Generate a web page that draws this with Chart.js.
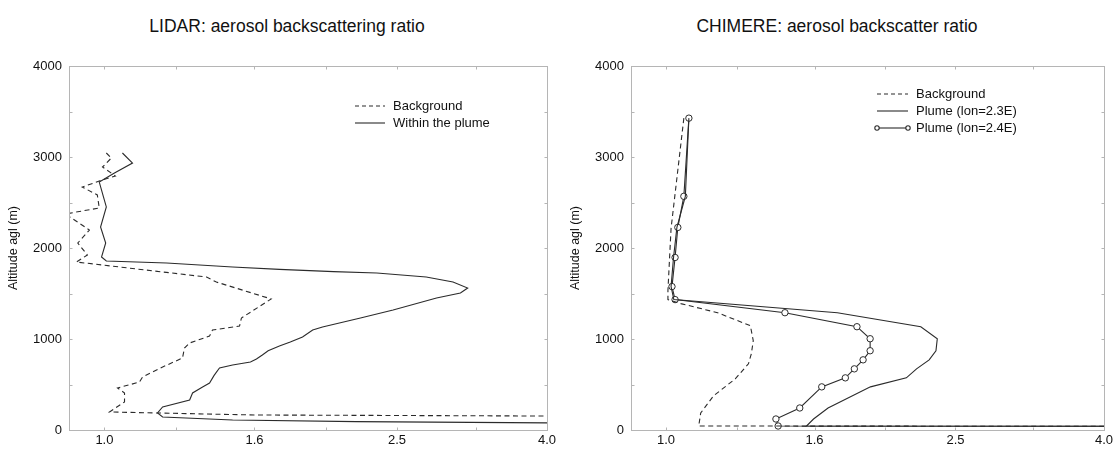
<!DOCTYPE html>
<html>
<head>
<meta charset="utf-8">
<script src="https://cdn.jsdelivr.net/npm/chart.js@4.4.1/dist/chart.umd.min.js"></script>
<style>
  body { margin: 0; background: #fff; }
  #wrap { position: relative; width: 1116px; height: 449px; overflow: hidden; font-family: 'Liberation Sans', Arial, sans-serif; }
  .title { position: absolute; top: 16px; text-align: center; font-size: 17.5px; line-height: 20px; color: #111; }
  canvas { position: absolute; top: 0; }
</style>
</head>
<body>
<div id="wrap">
  <div class="title" style="left:0;width:574px">LIDAR: aerosol backscattering ratio</div>
  <div class="title" style="left:558px;width:558px">CHIMERE: aerosol backscatter ratio</div>
  <canvas id="lidarChart" width="574" height="449" style="left:0"></canvas>
  <canvas id="chimereChart" width="558" height="449" style="left:558px"></canvas>
</div>
<script>
// axis ticks
const altTicks = [0, 1000, 2000, 3000, 4000];
const ratioTicks = [1.0, 1.6, 2.5, 4.0];
const ratioMinorTicks = [1.25, 2.0, 3.2];

// legend names
const lidarLabels = ['Background', 'Within the plume'];
const chimereLabels = ['Background', 'Plume (lon=2.3E)', 'Plume (lon=2.4E)'];

// LIDAR profiles (altitude in m, backscattering ratio)
const lidarBgAlt = [3044, 2989, 2890, 2791, 2736, 2670, 2583, 2440, 2374, 2198, 2055, 1923, 1846, 1681, 1626, 1440, 1231, 1143, 1099, 1033, 956, 901, 791, 692, 582, 527, 462, 407, 308, 198, 165, 152];
const lidarBgRatio = [1.006, 1.022, 0.994, 1.035, 0.984, 0.933, 0.978, 0.984, 0.885, 0.954, 0.92, 0.948, 0.916, 1.377, 1.42, 1.686, 1.536, 1.527, 1.403, 1.39, 1.306, 1.285, 1.277, 1.2, 1.127, 1.116, 1.042, 1.065, 1.065, 1.016, 1.6, 4.5];

const lidarPlumeAlt = [3044, 2934, 2824, 2725, 2561, 2451, 2231, 2055, 1901, 1857, 1835, 1791, 1765, 1740, 1725, 1681, 1626, 1560, 1505, 1450, 1319, 1231, 1132, 1099, 1022, 967, 923, 870, 824, 780, 747, 714, 681, 600, 516, 472, 407, 330, 253, 187, 143, 110, 92, 75];
const lidarPlumeRatio = [1.058, 1.092, 1.032, 0.984, 0.997, 1.006, 0.988, 1.004, 0.991, 1.006, 1.215, 1.494, 1.73, 2.05, 2.347, 2.74, 2.98, 3.12, 3.05, 2.83, 2.47, 2.23, 1.98, 1.92, 1.86, 1.79, 1.73, 1.67, 1.64, 1.61, 1.58, 1.494, 1.434, 1.41, 1.39, 1.36, 1.318, 1.306, 1.2, 1.181, 1.2, 1.494, 2.2, 4.5];

// CHIMERE profiles
const chimereBgAlt = [3427, 2215, 1532, 1433, 1389, 1289, 1146, 981, 838, 727, 562, 375, 187, 44, 40];
const chimereBgRatio = [1.058, 1.016, 1.006, 1.006, 1.048, 1.177, 1.306, 1.318, 1.31, 1.298, 1.245, 1.162, 1.116, 1.109, 4.5];

const chimere23Alt = [3427, 2568, 2226, 1896, 1576, 1433, 1289, 1135, 1003, 871, 771, 672, 573, 474, 242, 121, 44, 40];
const chimere23Ratio = [1.075, 1.063, 1.035, 1.024, 1.016, 1.025, 1.72, 2.24, 2.36, 2.35, 2.30, 2.21, 2.14, 1.91, 1.67, 1.595, 1.56, 4.5];

const chimere24Alt = [3427, 2568, 2226, 1896, 1576, 1433, 1289, 1135, 1003, 871, 771, 672, 573, 474, 242, 121, 44, 40];
const chimere24Ratio = [1.075, 1.058, 1.038, 1.029, 1.019, 1.029, 1.457, 1.83, 1.908, 1.908, 1.866, 1.815, 1.764, 1.637, 1.527, 1.416, 1.426, 4.5];

Chart.defaults.font.family = "'Liberation Sans', Arial, sans-serif";
Chart.defaults.color = '#111';

function toPoints(ratio, alt) {
    return ratio.map((r, i) => ({ x: r, y: alt[i] }));
}

function profile(label, ratio, alt, dashed, markers) {
    return {
        label: label,
        data: toPoints(ratio, alt),
        borderColor: '#2b2b2b',
        borderWidth: 1.1,
        borderDash: dashed ? [5, 3.5] : [],
        pointRadius: markers ? 3.2 : 0,
        pointBackgroundColor: '#fff',
        pointBorderColor: '#2b2b2b',
        pointBorderWidth: 1,
        tension: 0,
        clip: 0
    };
}

// box round the plot, inward tick marks and the small legend inside the plot
const framePlugin = {
    id: 'frame',
    afterDraw(chart, args, opts) {
        const { ctx, chartArea: a, scales: { x, y } } = chart;
        ctx.save();
        ctx.strokeStyle = '#b5b5b5';
        ctx.lineWidth = 1;
        const l = Math.round(a.left) + 0.5, t = Math.round(a.top) + 0.5;
        const r = Math.round(a.right) + 0.5, b = Math.round(a.bottom) + 0.5;
        ctx.strokeRect(l, t, r - l, b - t);
        ctx.beginPath();
        x.ticks.forEach(tk => {
            const px = Math.round(x.getPixelForValue(tk.value)) + 0.5;
            ctx.moveTo(px, b); ctx.lineTo(px, b - 3);
            ctx.moveTo(px, t); ctx.lineTo(px, t + 3);
        });
        y.ticks.forEach(tk => {
            const py = Math.round(y.getPixelForValue(tk.value)) + 0.5;
            ctx.moveTo(l, py); ctx.lineTo(l + 3, py);
            ctx.moveTo(r, py); ctx.lineTo(r - 3, py);
        });
        ctx.stroke();

        ctx.font = "13px 'Liberation Sans', Arial, sans-serif";
        ctx.textBaseline = 'middle';
        chart.data.datasets.forEach((ds, i) => {
            const yy = opts.y + i * opts.row;
            ctx.strokeStyle = ds.borderColor;
            ctx.lineWidth = ds.borderWidth;
            ctx.setLineDash(ds.borderDash.length ? [4, 3] : []);
            ctx.beginPath();
            ctx.moveTo(opts.x, yy);
            ctx.lineTo(opts.x + opts.sample, yy);
            ctx.stroke();
            ctx.setLineDash([]);
            if (ds.pointRadius > 0) {
                [opts.x, opts.x + opts.sample].forEach(cx => {
                    ctx.beginPath();
                    ctx.arc(cx, yy, 2.2, 0, 2 * Math.PI);
                    ctx.fillStyle = '#fff';
                    ctx.fill();
                    ctx.stroke();
                });
            }
            ctx.fillStyle = '#111';
            ctx.fillText(ds.label, opts.x + opts.sample + 8, yy);
        });
        ctx.restore();
    }
};

function makeChart(id, datasets, yWidth, yTitlePad, padRight, legend) {
    return new Chart(document.getElementById(id), {
        type: 'line',
        data: { datasets: datasets },
        options: {
            responsive: false,
            animation: false,
            layout: { padding: { top: 66, right: padRight, left: 0, bottom: 0 } },
            plugins: {
                legend: { display: false },
                tooltip: { enabled: false },
                frame: legend
            },
            scales: {
                x: {
                    type: 'logarithmic',
                    min: 0.895,
                    max: 4.0,
                    grid: { display: false, drawTicks: false },
                    border: { display: false },
                    afterBuildTicks: s => {
                        s.ticks = ratioTicks.concat(ratioMinorTicks).sort((p, q) => p - q).map(v => ({ value: v }));
                    },
                    afterFit: s => { s.height = 19; },
                    ticks: {
                        autoSkip: false,
                        maxRotation: 0,
                        padding: 3,
                        font: { size: 13 },
                        callback: v => ratioTicks.includes(v) ? v.toFixed(1) : ''
                    }
                },
                y: {
                    type: 'linear',
                    min: 0,
                    max: 4000,
                    grid: { display: false, drawTicks: false },
                    border: { display: false },
                    afterFit: s => { s.width = yWidth; },
                    ticks: {
                        stepSize: 500,
                        padding: 7,
                        font: { size: 13 },
                        callback: v => altTicks.includes(v) ? String(v) : ''
                    },
                    title: {
                        display: true,
                        text: 'Altitude agl (m)',
                        font: { size: 12.5 },
                        padding: { top: yTitlePad, bottom: 0 }
                    }
                }
            }
        },
        plugins: [framePlugin]
    });
}

makeChart('lidarChart', [
    profile(lidarLabels[0], lidarBgRatio, lidarBgAlt, true, false),
    profile(lidarLabels[1], lidarPlumeRatio, lidarPlumeAlt, false, false)
], 69, 6, 27, { x: 355, y: 106, row: 17, sample: 30 });

makeChart('chimereChart', [
    profile(chimereLabels[0], chimereBgRatio, chimereBgAlt, true, false),
    profile(chimereLabels[1], chimere23Ratio, chimere23Alt, false, false),
    profile(chimereLabels[2], chimere24Ratio, chimere24Alt, false, true)
], 73, 10, 9, { x: 319, y: 94, row: 17, sample: 31 });
</script>
</body>
</html>
